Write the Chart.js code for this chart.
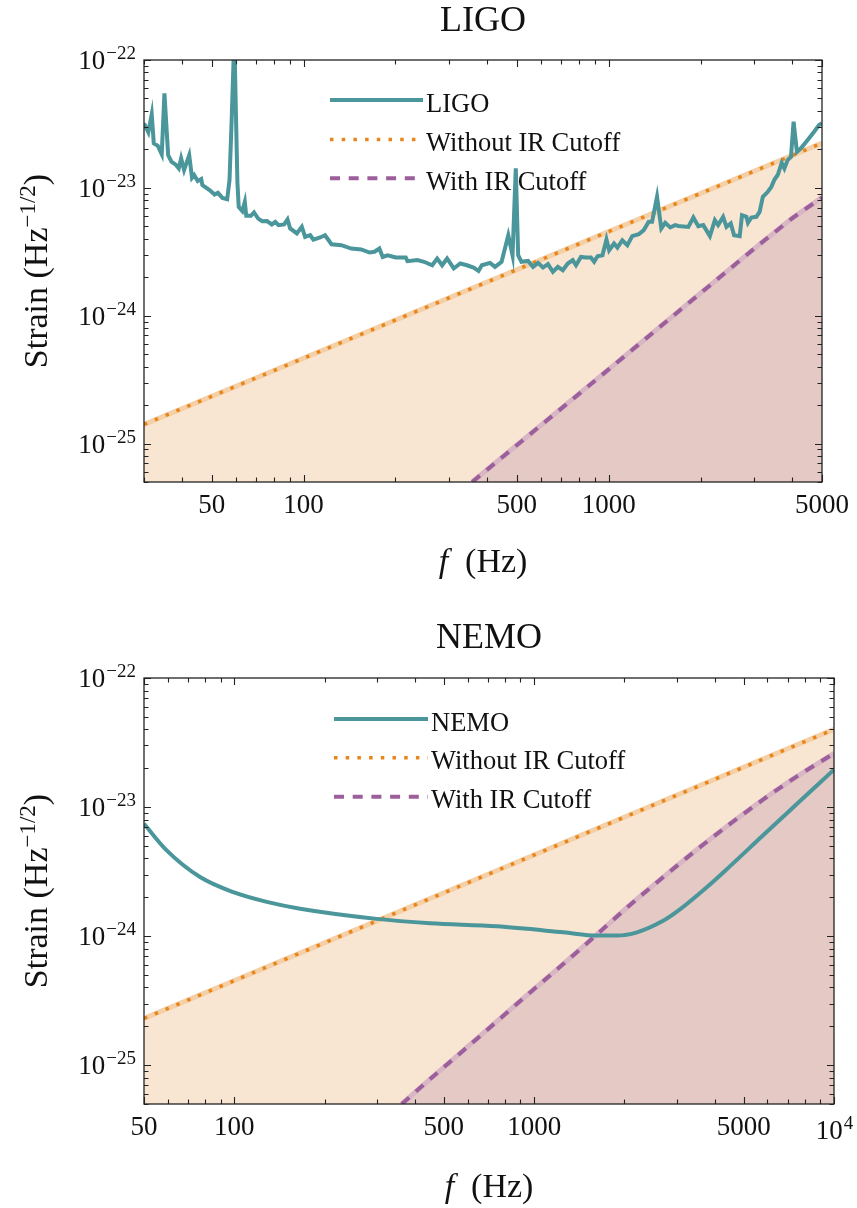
<!DOCTYPE html>
<html>
<head>
<meta charset="utf-8">
<script src="https://cdn.jsdelivr.net/npm/chart.js"></script>
<style>
  body { margin: 0; background: #fff; }
  canvas { display: block; }
</style>
</head>
<body>
<canvas id="ligoChart" width="857" height="604"></canvas>
<canvas id="nemoChart" width="857" height="604"></canvas>
<script>
// ---- LIGO sensitivity curve (Hz, strain) ----
const ligoFreq = [30, 31, 31.8, 32.3, 33.3, 34.3, 35, 36, 36.9, 38.2, 39, 39.7, 40.6, 42.2, 43.1, 43.8, 45, 46.2, 46.6, 49.2,
  51.1, 52.4, 54.2, 56.2, 57.2, 58.1, 59.3, 60.7, 61.3, 63, 64.2, 64.9, 67.2, 68.8, 71, 73.2, 75.9, 78.7, 80.8, 82.8,
  86.4, 88.6, 90.4, 95.1, 98.7, 101.2, 105.1, 107.7, 113.3, 117.6, 123.5, 133, 143.3, 154.5, 164.5, 170.7, 177.2, 181.7, 188.6, 200.7,
  216.3, 219, 236.1, 248.2, 264, 274.1, 284.5, 295.4, 310.6, 326.3, 343.1, 360.7, 374.4, 383.8, 408.4, 424, 445.6, 468.7, 484, 496,
  505, 517.6, 544.3, 565, 586.6, 609, 632.2, 656.4, 681.3, 707.3, 734.3, 762.3, 781.3, 811.1, 842.1, 874.2, 896, 919.2, 954.2, 983.2,
  1003, 1041, 1068, 1108, 1151, 1194, 1255, 1303, 1352, 1387, 1440, 1487, 1532, 1591, 1651, 1692, 1824, 1894, 1966, 2041,
  2146, 2228, 2283, 2371, 2432, 2512, 2575, 2687, 2734, 2826, 2860, 2934, 3046, 3122, 3200, 3322, 3407, 3493, 3580, 3689,
  3764, 3858, 3957, 4035, 4138, 4264, 4480, 4711, 4890, 5000];
const ligoStrain = [3.19e-23, 2.72e-23, 3.76e-23, 2.23e-23, 2.13e-23, 1.83e-23, 5.48e-23, 1.80e-23, 1.60e-23, 1.51e-23, 1.42e-23, 1.70e-23, 1.38e-23, 1.80e-23, 1.20e-23, 1.26e-23, 1.13e-23, 1.17e-23, 1.05e-23, 9.6e-24,
  8.87e-24, 9.14e-24, 8.35e-24, 8.16e-24, 1.15e-23, 3.29e-23, 1.5e-22, 1.11e-23, 7.10e-24, 6.58e-24, 7.77e-24, 6.04e-24, 6.04e-24, 6.42e-24, 5.75e-24, 5.48e-24, 5.50e-24, 5.17e-24, 5.42e-24, 5.11e-24,
  5.17e-24, 5.66e-24, 4.81e-24, 4.40e-24, 4.95e-24, 4.13e-24, 4.26e-24, 3.94e-24, 4.09e-24, 4.26e-24, 3.62e-24, 3.56e-24, 3.35e-24, 3.30e-24, 3.12e-24, 3.16e-24, 3.35e-24, 2.88e-24, 2.97e-24, 2.85e-24,
  2.85e-24, 2.67e-24, 2.72e-24, 2.64e-24, 2.48e-24, 2.80e-24, 2.48e-24, 2.80e-24, 2.34e-24, 2.56e-24, 2.48e-24, 2.38e-24, 2.24e-24, 2.48e-24, 2.59e-24, 2.41e-24, 2.64e-24, 4.26e-24, 2.97e-24, 1.42e-23,
  2.97e-24, 2.64e-24, 2.68e-24, 2.41e-24, 2.59e-24, 2.38e-24, 2.53e-24, 2.20e-24, 2.41e-24, 2.27e-24, 2.56e-24, 2.72e-24, 2.48e-24, 2.88e-24, 2.85e-24, 2.85e-24, 2.64e-24, 2.92e-24, 2.97e-24, 3.94e-24,
  3.25e-24, 3.67e-24, 3.41e-24, 3.89e-24, 3.56e-24, 4.19e-24, 4.34e-24, 4.67e-24, 5.42e-24, 5.42e-24, 8.51e-24, 4.81e-24, 5.32e-24, 4.90e-24, 5.11e-24, 5.03e-24, 4.95e-24, 5.86e-24, 5.01e-24, 5.11e-24,
  4.19e-24, 5.58e-24, 5.11e-24, 5.93e-24, 4.95e-24, 5.26e-24, 4.26e-24, 4.19e-24, 6.11e-24, 5.93e-24, 5.32e-24, 5.86e-24, 5.93e-24, 6.49e-24, 8.51e-24, 9.31e-24, 1.01e-23, 1.16e-23, 1.26e-23, 1.57e-23,
  1.42e-23, 1.65e-23, 1.75e-23, 3.29e-23, 1.91e-23, 2.04e-23, 2.36e-23, 2.75e-23, 3.10e-23, 3.20e-23];

// signal without / with IR cutoff, LIGO band
const ligoNoCutFreq = [30, 5000];
const ligoNoCut = [1.41e-25, 2.24e-23];
const ligoCutFreq = [357, 1000, 2000, 3000, 4000, 5000];
const ligoCut = [5.0e-26, 3.8e-25, 1.5e-24, 3.35e-24, 5.8e-24, 8.4e-24];

// ---- NEMO sensitivity curve ----
const nemoFreq = [50, 59.5, 76.9, 99.3, 128.4, 165.8, 298.8, 450, 751, 1253, 1620, 1888, 2203, 2702, 3032, 3772, 4512, 5826, 7531, 10000];
const nemoStrain = [7.43e-24, 4.62e-24, 2.87e-24, 2.19e-24, 1.84e-24, 1.63e-24, 1.36e-24, 1.26e-24, 1.19e-24, 1.07e-24,
  1.01e-24, 1.01e-24, 1.07e-24, 1.32e-24, 1.58e-24, 2.4e-24, 3.5e-24, 6.1e-24, 1.06e-23, 1.95e-23];

const nemoNoCutFreq = [50, 10000];
const nemoNoCut = [2.3e-25, 4.0e-23];
const nemoCutFreq = [362, 450, 581, 751, 970, 1253, 1620, 2093, 2702, 3494, 4512, 5826, 7531, 10000];
const nemoCut = [5.0e-26, 7.8e-26, 1.30e-25, 2.18e-25, 3.66e-25, 6.1e-25, 1.03e-24, 1.75e-24, 2.88e-24, 4.69e-24,
  7.43e-24, 1.15e-23, 1.73e-23, 2.6e-23];

// ticks and labels
const ligoXTicks = [50, 100, 500, 1000, 5000];
const nemoXTicks = [50, 100, 500, 1000, 5000, 10000];
const yTicks = [1e-25, 1e-24, 1e-23, 1e-22];
const yExponents = ['\u221225', '\u221224', '\u221223', '\u221222'];
const cutoffLabels = ['Without IR Cutoff', 'With IR Cutoff'];

const SERIF = '"Liberation Serif", "Times New Roman", serif';
const colors = {
  teal: '#4a969b',
  orange: '#e8861c',
  orangeFill: '#f8e6d2',
  orangeBand: '#f5cfa6',
  purple: '#9d5e9c',
  purpleFill: '#e4c9c4',
  purpleBand: '#d8b6c4'
};
const dotted = [3.5, 8.2];
const dashed = [10, 8.7];

function pts(xs, ys) {
  return xs.map((x, i) => ({ x: x, y: ys[i] }));
}

// all 1..9 x 10^n values inside [min, max], for the inward tick marks
function logSteps(min, max) {
  const out = [];
  for (let e = Math.floor(Math.log10(min)); e <= Math.ceil(Math.log10(max)); e++) {
    for (let m = 1; m <= 9; m++) {
      const v = m * Math.pow(10, e);
      if (v >= min * 0.999 && v <= max * 1.001) out.push(v);
    }
  }
  return out;
}

function drawPow(ctx, x, y, exp, align) {
  ctx.font = '27px ' + SERIF;
  const wb = ctx.measureText('10').width;
  ctx.font = '19px ' + SERIF;
  const we = ctx.measureText(exp).width;
  const x0 = align === 'right' ? x - wb - we : x - (wb + we) / 2;
  ctx.textAlign = 'left';
  ctx.textBaseline = 'alphabetic';
  ctx.font = '27px ' + SERIF;
  ctx.fillText('10', x0, y);
  ctx.font = '19px ' + SERIF;
  ctx.fillText(exp, x0 + wb + 1, y - 10);
}

function decor(cfg) {
  return {
    id: 'decor',
    afterDraw(chart) {
      const ctx = chart.ctx;
      const a = chart.chartArea;
      const xs = chart.scales.x;
      const ys = chart.scales.y;
      ctx.save();
      ctx.fillStyle = '#111';
      ctx.strokeStyle = '#222';

      // frame
      ctx.lineWidth = 1.3;
      ctx.strokeRect(a.left, a.top, a.right - a.left, a.bottom - a.top);

      // inward ticks
      ctx.lineWidth = 1.1;
      logSteps(xs.min, xs.max).forEach(v => {
        const p = Math.round(xs.getPixelForValue(v)) + 0.5;
        const len = cfg.xTicks.includes(v) ? 7 : 4.5;
        ctx.beginPath();
        ctx.moveTo(p, a.bottom); ctx.lineTo(p, a.bottom - len);
        ctx.moveTo(p, a.top); ctx.lineTo(p, a.top + len);
        ctx.stroke();
      });
      logSteps(ys.min, ys.max).forEach(v => {
        const p = Math.round(ys.getPixelForValue(v)) + 0.5;
        const len = yTicks.some(t => Math.abs(t - v) / t < 1e-6) ? 7 : 4.5;
        ctx.beginPath();
        ctx.moveTo(a.left, p); ctx.lineTo(a.left + len, p);
        ctx.moveTo(a.right, p); ctx.lineTo(a.right - len, p);
        ctx.stroke();
      });

      // y tick labels 10^n
      yTicks.forEach((v, i) => {
        drawPow(ctx, a.left - 9, ys.getPixelForValue(v) + 9, yExponents[i], 'right');
      });
      if (cfg.xTicks.includes(10000)) {
        drawPow(ctx, xs.getPixelForValue(10000), cfg.powBaseline, '4', 'center');
      }

      // title
      const cx = (a.left + a.right) / 2;
      ctx.font = '36px ' + SERIF;
      ctx.textAlign = 'center';
      ctx.fillText(cfg.title, cx, cfg.titleBaseline);

      // x axis title
      ctx.textAlign = 'left';
      ctx.font = 'italic 34px ' + SERIF;
      const wf = ctx.measureText('f').width;
      ctx.font = '34px ' + SERIF;
      const wh = ctx.measureText('(Hz)').width;
      const gap = 17;
      const x0 = cx - (wf + gap + wh) / 2;
      ctx.font = 'italic 34px ' + SERIF;
      ctx.fillText('f', x0, cfg.xTitleBaseline);
      ctx.font = '34px ' + SERIF;
      ctx.fillText('(Hz)', x0 + wf + gap, cfg.xTitleBaseline);

      // y axis title, rotated
      ctx.save();
      ctx.translate(47, (a.top + a.bottom) / 2);
      ctx.rotate(-Math.PI / 2);
      const parts = [
        { t: 'Strain (Hz', size: 34, dy: 0 },
        { t: '\u22121/2', size: 23, dy: -12 },
        { t: ')', size: 34, dy: 0 }
      ];
      let total = 0;
      parts.forEach(p => { ctx.font = p.size + 'px ' + SERIF; p.w = ctx.measureText(p.t).width; total += p.w; });
      let px = -total / 2;
      parts.forEach(p => { ctx.font = p.size + 'px ' + SERIF; ctx.fillText(p.t, px, p.dy); px += p.w; });
      ctx.restore();

      // legend inside the plot
      const rows = [
        { label: cfg.title, color: colors.teal, dash: [], width: 4 },
        { label: cutoffLabels[0], color: colors.orange, dash: dotted, width: 3.5 },
        { label: cutoffLabels[1], color: colors.purple, dash: dashed, width: 4 }
      ];
      rows.forEach((r, i) => {
        const y = cfg.legendY[i];
        ctx.beginPath();
        ctx.setLineDash(r.dash);
        ctx.lineWidth = r.width;
        ctx.strokeStyle = r.color;
        ctx.moveTo(cfg.legendX[0], y);
        ctx.lineTo(cfg.legendX[1], y);
        ctx.stroke();
        ctx.setLineDash([]);
        ctx.font = '26.5px ' + SERIF;
        ctx.fillStyle = '#111';
        ctx.fillText(r.label, cfg.legendX[2], y + 11.5);
      });
      ctx.restore();
    }
  };
}

function makeChart(id, cfg) {
  const curveOpts = cfg.smooth ? { cubicInterpolationMode: 'monotone' } : { tension: 0 };
  return new Chart(document.getElementById(id), {
    type: 'line',
    data: {
      datasets: [
        Object.assign({ label: cfg.title, data: cfg.curve, borderColor: colors.teal, borderWidth: 4, fill: false, order: 0, clip: 0 }, curveOpts),
        { label: cutoffLabels[0], data: cfg.noCut, borderColor: colors.orange, borderWidth: 3.5, borderDash: dotted, fill: false, order: 1, clip: 0 },
        Object.assign({ label: cutoffLabels[1], data: cfg.cut, borderColor: colors.purple, borderWidth: 4, borderDash: dashed, fill: false, order: 2, clip: 0 }, curveOpts),
        Object.assign({ label: 'cut area', data: cfg.cut, borderColor: colors.purpleBand, borderWidth: 5, backgroundColor: colors.purpleFill, fill: 'start', order: 3, clip: 0 }, curveOpts),
        { label: 'no cut area', data: cfg.noCut, borderColor: colors.orangeBand, borderWidth: 5, backgroundColor: colors.orangeFill, fill: 'start', order: 4, clip: 0 }
      ]
    },
    options: {
      responsive: false,
      animation: false,
      layout: { padding: { top: cfg.padTop, right: cfg.padRight, left: 0, bottom: 0 } },
      elements: { point: { radius: 0 } },
      plugins: { legend: { display: false }, title: { display: false }, tooltip: { enabled: false } },
      scales: {
        x: {
          type: 'logarithmic',
          min: cfg.xMin,
          max: cfg.xMax,
          afterFit: s => { s.height = cfg.xAxisHeight; },
          afterBuildTicks: s => { s.ticks = cfg.xTicks.map(v => ({ value: v })); },
          grid: { display: false, drawTicks: false },
          border: { display: false },
          ticks: {
            autoSkip: false,
            maxRotation: 0,
            padding: 8,
            color: '#111',
            font: { family: SERIF, size: 27 },
            callback: v => (v === 10000 ? '' : String(v))
          }
        },
        y: {
          type: 'logarithmic',
          min: 5e-26,
          max: 1e-22,
          afterFit: s => { s.width = 144; },
          grid: { display: false, drawTicks: false },
          border: { display: false },
          ticks: { display: false }
        }
      }
    },
    plugins: [decor(cfg)]
  });
}

makeChart('ligoChart', {
  title: 'LIGO',
  curve: pts(ligoFreq, ligoStrain),
  noCut: pts(ligoNoCutFreq, ligoNoCut),
  cut: pts(ligoCutFreq, ligoCut),
  smooth: false,
  xMin: 30, xMax: 5000, xTicks: ligoXTicks,
  padTop: 60, padRight: 31, xAxisHeight: 122,
  titleBaseline: 31, xTitleBaseline: 572, powBaseline: 0,
  legendY: [100, 139.5, 178.3], legendX: [330, 423, 426]
});

makeChart('nemoChart', {
  title: 'NEMO',
  curve: pts(nemoFreq, nemoStrain),
  noCut: pts(nemoNoCutFreq, nemoNoCut),
  cut: pts(nemoCutFreq, nemoCut),
  smooth: true,
  xMin: 50, xMax: 10000, xTicks: nemoXTicks,
  padTop: 74, padRight: 23, xAxisHeight: 104,
  titleBaseline: 44, xTitleBaseline: 592.5, powBaseline: 535,
  legendY: [115, 153.7, 192.7], legendX: [334, 428, 431]
});
</script>
</body>
</html>
